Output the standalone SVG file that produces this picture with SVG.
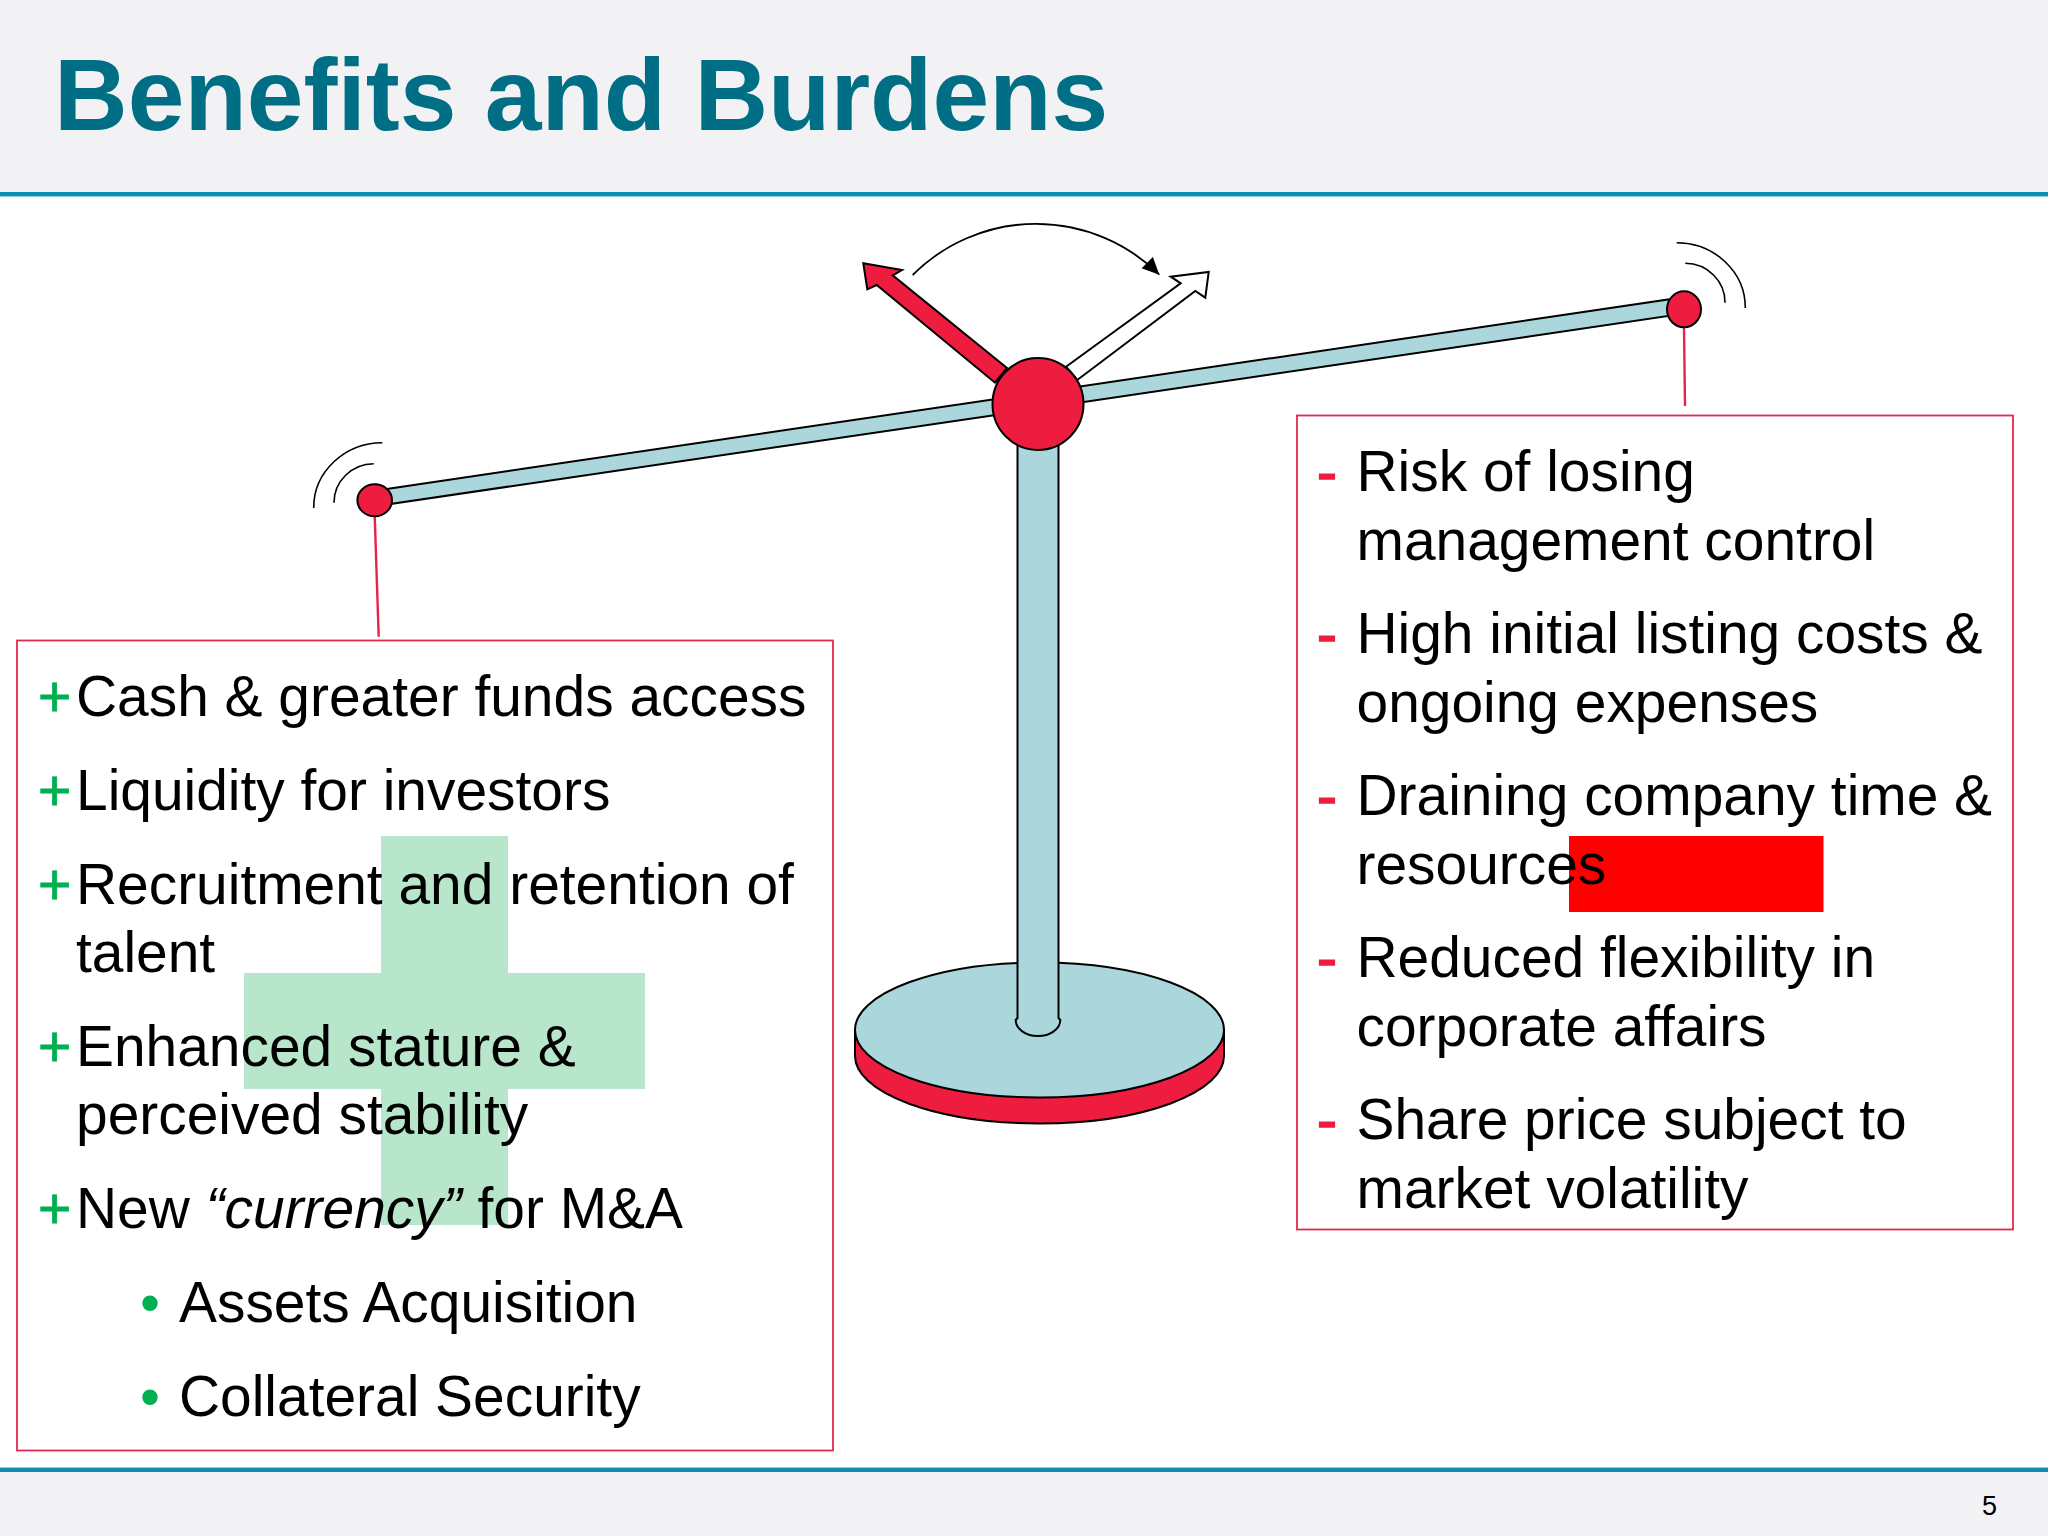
<svg xmlns="http://www.w3.org/2000/svg" width="2048" height="1536" viewBox="0 0 2048 1536">
<defs>
<marker id="swing" markerUnits="userSpaceOnUse" markerWidth="20" markerHeight="20" refX="17" refY="9" orient="auto"><path d="M0,1 L17,9 L0,17 Z" fill="#000"/></marker>
</defs>
<style>
text{font-family:"Liberation Sans",Arial,sans-serif;fill:#000}
.t{font-size:56.9px}
.plus{font-size:57px;fill:#00b050;stroke:#00b050;stroke-width:.8}
.minus{font-size:60px;fill:#ee1c3e;stroke:#ee1c3e;stroke-width:1.6}
.dot{font-size:57px;fill:#00b050}
.band{fill:#f2f2f4}
.rule{fill:#0e8fb0}
.fringe{fill:#8ed4e6}
.ink{stroke:#000;stroke-width:2}
.red{fill:#ee1c3e}
.teal{fill:#aad6dc}
.frame{fill:none;stroke:#e0294f;stroke-width:1.8}
.lead{fill:none;stroke:#e8234a;stroke-width:2.4}
.wave{fill:none;stroke:#000;stroke-width:1.6}
</style>
<rect width="2048" height="1536" fill="#fff"/>
<g id="header">
<rect class="band" width="2048" height="192"/>
<rect class="rule" y="192" width="2048" height="4"/>
<rect class="fringe" y="196" width="2048" height="1"/>
<text x="54" y="129.500" font-size="102" font-weight="bold" style="fill:#006f85">Benefits and Burdens</text>
</g>
<g id="footer">
<rect class="band" y="1472" width="2048" height="64"/>
<rect class="rule" y="1468" width="2048" height="4"/>
<rect class="fringe" y="1467" width="2048" height="1"/>
<text x="1982" y="1515" font-size="27">5</text>
</g>
<g id="plus-watermark"><path d="M381,836 H508 V973 H645 V1089 H508 V1225 H381 V1089 H244 V973 H381 Z" fill="#b7e6cb"/></g>
<g id="redaction"><rect x="1569" y="836" width="254.500" height="76" fill="#f00"/></g>
<g id="connectors">
<path class="lead" d="M374.700,516 L378.700,636.700"/>
<path class="lead" d="M1684,327 L1685,406"/>
<path d="M912.700,275 A174.500,174.500 0 0 1 1159.300,274.700" fill="none" stroke="#000" stroke-width="1.800" marker-end="url(#swing)"/>
</g>
<g id="scale">
<path class="ink" d="M855,1030 V1056 A184.500,67.500 0 0 0 1224,1056 V1030 Z" style="fill:#ee1c3e"/>
<ellipse class="teal ink" cx="1039.500" cy="1030" rx="184.500" ry="67.500"/>
<path class="teal ink" d="M1017.500,430 V1018 L1015.700,1020 A22.300,16 0 0 0 1060.300,1020 L1058.500,1018 V430 Z"/>
<path class="ink" fill="#fff" d="M1066,366.700 L1180.700,283.300 L1170.700,276.700 L1208.700,272 L1205.300,297.700 L1195.300,291 L1077.300,380 Z"/>
<path class="red ink" d="M1007,368 L892.700,275.300 L902,270 L863.300,263.300 L867.300,289.300 L876.700,285 L995,382.700 Z"/>
<path class="teal ink" d="M380,490 L1675,298.500 L1675,315 L380,505.500 Z"/>
<ellipse id="pivot" class="red ink" cx="1038" cy="404" rx="45.500" ry="46"/>
<ellipse class="red ink" cx="374.700" cy="500.300" rx="17.300" ry="16"/>
<ellipse class="red ink" cx="1684" cy="309.300" rx="17" ry="18"/>
<path class="wave" d="M382.300,442.700 A69,65 0 0 0 313.700,508"/>
<path class="wave" d="M373.700,463.700 A40,39 0 0 0 334,502.700"/>
<path class="wave" d="M1676.700,242.700 A69,65 0 0 1 1745.300,308"/>
<path class="wave" d="M1685.300,263.300 A40,39 0 0 1 1725,302.700"/>
</g>
<g id="benefits">
<rect class="frame" x="17" y="640.500" width="816" height="810"/>
<text class="plus" x="38" y="716.200">+</text><text class="t" x="76" y="716.200">Cash &amp; greater funds access</text>
<text class="plus" x="38" y="810">+</text><text class="t" x="76" y="810">Liquidity for investors</text>
<text class="plus" x="38" y="904">+</text><text class="t" x="76" y="904">Recruitment and retention of</text>
<text class="t" x="76" y="972">talent</text>
<text class="plus" x="38" y="1066">+</text><text class="t" x="76" y="1066">Enhanced stature &amp;</text>
<text class="t" x="76" y="1134">perceived stability</text>
<text class="plus" x="38" y="1228">+</text><text class="t" x="76" y="1228">New <tspan font-style="italic">“currency”</tspan> for M&amp;A</text>
<text class="dot" x="140" y="1322">•</text><text class="t" x="179" y="1322">Assets Acquisition</text>
<text class="dot" x="140" y="1416">•</text><text class="t" x="179" y="1416">Collateral Security</text>
</g>
<g id="burdens">
<rect class="frame" x="1297" y="415.500" width="716" height="814"/>
<text class="minus" x="1317" y="492">-</text><text class="t" x="1356.500" y="491">Risk of losing</text>
<text class="t" x="1356.500" y="559.600">management control</text>
<text class="minus" x="1317" y="654">-</text><text class="t" x="1356.500" y="653">High initial listing costs &amp;</text>
<text class="t" x="1356.500" y="722">ongoing expenses</text>
<text class="minus" x="1317" y="816">-</text><text class="t" x="1356.500" y="815">Draining company time &amp;</text>
<text class="t" x="1356.500" y="884">resources</text>
<text class="minus" x="1317" y="978">-</text><text class="t" x="1356.500" y="977">Reduced flexibility in</text>
<text class="t" x="1356.500" y="1046">corporate affairs</text>
<text class="minus" x="1317" y="1140">-</text><text class="t" x="1356.500" y="1139">Share price subject to</text>
<text class="t" x="1356.500" y="1208">market volatility</text>
</g>
</svg>
